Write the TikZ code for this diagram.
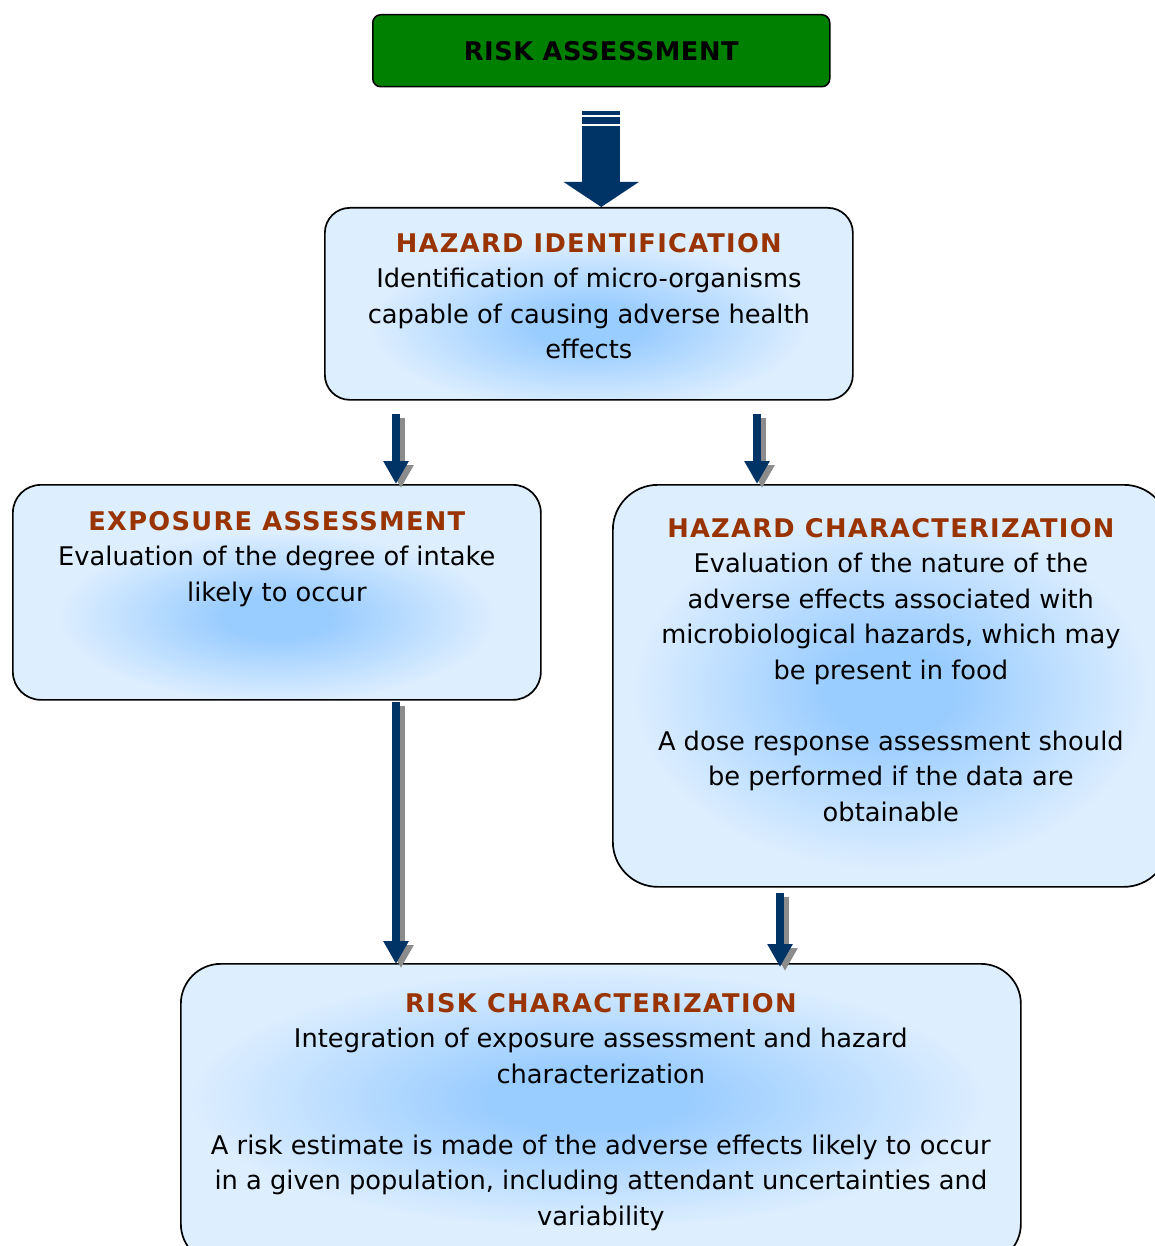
\documentclass[tikz,border=0pt]{standalone}
\usepackage{fontspec}
\setmainfont{DejaVu Sans}
\usetikzlibrary{arrows.meta,calc}

\definecolor{navy}{HTML}{003366}
\definecolor{shadowgray}{HTML}{8C8C8C}
\definecolor{titlebrown}{HTML}{993300}
\definecolor{boxbg}{HTML}{DDEEFF}
\definecolor{blobblue}{HTML}{99CCFF}
\definecolor{headgreen}{HTML}{008000}

% soft blue glow in the middle of each panel; it has faded out well inside the ellipse
\pgfdeclareradialshading{blobshade}{\pgfpoint{0bp}{0bp}}{%
  color(0bp)=(blobblue); color(3bp)=(blobblue); color(12.5bp)=(boxbg); color(50bp)=(boxbg)}

\newcommand\castarrow[2]{%
  \draw[arrowshadow] ([shift={(5,4)}]#1) -- ([shift={(5,4)}]#2);
  \draw[arrowmain] (#1) -- (#2);}

\newcommand\paneltitle[1]{{\bfseries\addfontfeature{LetterSpace=5}\color{titlebrown}#1}}

\begin{document}
\begin{tikzpicture}[x=1pt,y=-1pt,
  panel/.style={draw=black, line width=1.7pt, fill=boxbg, rectangle,
    inner sep=0pt, anchor=north west},
  blob/.style n args={4}{path picture={%
    \shade[shading=blobshade] ($(path picture bounding box.center)+(#1,#2)$)
      ellipse [x radius=2*#3, y radius=2*#4];}},
  headbox/.style={draw=black, line width=1.5pt, fill=headgreen, rectangle,
    rounded corners=8pt, inner sep=0pt, anchor=north west},
  txt/.style={anchor=north, inner sep=0pt, align=center,
    font=\fontsize{25.7}{35.5}\selectfont},
  arrowmain/.style={navy, line width=8pt, -{Triangle[width=24pt,length=23pt]}},
  arrowshadow/.style={shadowgray, line width=8pt, -{Triangle[width=24pt,length=23pt]}},
]
\useasboundingbox (0,0) rectangle (1154,1246);

% top heading
\node[headbox, minimum width=457pt, minimum height=72pt] (ra) at (372,14) {};
\node[font=\fontsize{25.7}{30}\selectfont\bfseries] (rat) at (ra.center)
  {\addfontfeature{LetterSpace=2}RISK ASSESSMENT};

% panels
\node[panel, rounded corners=25pt, minimum width=528pt, minimum height=192pt,
      blob={0}{22}{220}{85}] (hid) at (324,207) {};
\node[panel, rounded corners=28pt, minimum width=528pt, minimum height=215pt,
      blob={0}{25}{220}{85}] (exp) at (12,484) {};
\node[panel, rounded corners=45pt, minimum width=556pt, minimum height=402pt,
      blob={0}{5}{260}{180}] (hc) at (612,484) {};
\node[panel, rounded corners=40pt, minimum width=840pt, minimum height=300pt,
      blob={-13}{-15}{400}{130}] (rc) at (180,963) {};

% panel texts
\node[txt] (hidt) at ([yshift=-19pt]hid.north)
  {\rule{0pt}{26pt}\paneltitle{HAZARD IDENTIFICATION}\\
   Identification of micro-organisms\\
   capable of causing adverse health\\
   effects};
\node[txt] (expt) at ([yshift=-20pt]exp.north)
  {\rule{0pt}{26pt}\paneltitle{EXPOSURE ASSESSMENT}\\
   Evaluation of the degree of intake\\
   likely to occur};
\node[txt] (hct) at ([yshift=-27pt]hc.north)
  {\rule{0pt}{26pt}\paneltitle{HAZARD CHARACTERIZATION}\\
   Evaluation of the nature of the\\
   adverse effects associated with\\
   microbiological hazards, which may\\
   be present in food\\[35.5pt]
   A dose response assessment should\\
   be performed if the data are\\
   obtainable};
\node[txt] (rct) at ([yshift=-23pt]rc.north)
  {\rule{0pt}{26pt}\paneltitle{RISK CHARACTERIZATION}\\
   Integration of exposure assessment and hazard\\
   characterization\\[35.5pt]
   A risk estimate is made of the adverse effects likely to occur\\
   in a given population, including attendant uncertainties and\\
   variability};

% large arrow below the heading, with its two banded stripes
\coordinate (bigs) at ($(ra.south)+(0,39)$);
\coordinate (bige) at (bigs |- hid.north);
\fill[navy] ($(ra.south)+(-19,24)$) rectangle ($(ra.south)+(19,28)$);
\fill[navy] ($(ra.south)+(-19,30)$) rectangle ($(ra.south)+(19,37)$);
\draw[navy, line width=38pt, -{Triangle[width=74pt,length=25pt]}] (bigs) -- (bige);

% smaller shadowed arrows between panels
\coordinate (a1s) at ($(hid.south west)+(72,13)$);
\coordinate (a1e) at (a1s |- exp.north);
\coordinate (a2s) at ($(hid.south west)+(433,13)$);
\coordinate (a2e) at (a2s |- hc.north);
\coordinate (a3s) at ($(exp.south west)+(384,1)$);
\coordinate (a3e) at ($(a3s |- rc.north)+(0,1)$);
\coordinate (a4s) at ($(hc.south west)+(168,5)$);
\coordinate (a4e) at ($(a4s |- rc.north)+(0,4)$);
\castarrow{a1s}{a1e}
\castarrow{a2s}{a2e}
\castarrow{a3s}{a3e}
\castarrow{a4s}{a4e}
\end{tikzpicture}
\end{document}
